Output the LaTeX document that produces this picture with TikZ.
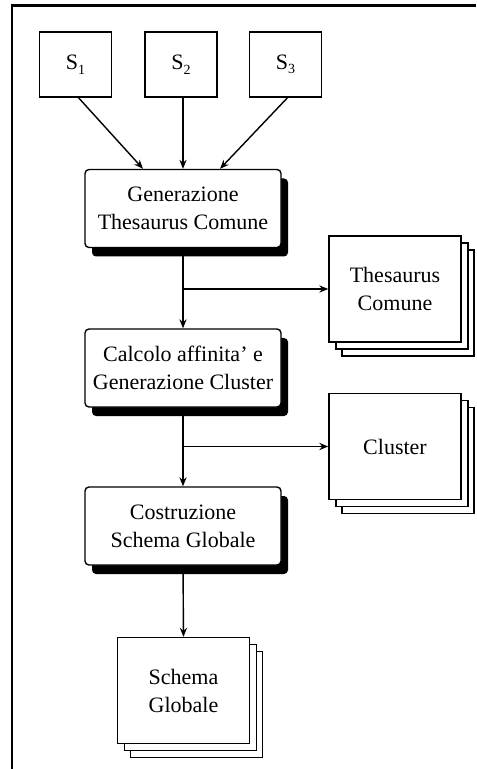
\documentclass[tikz,border=0pt]{standalone}
\usepackage{fontspec}
\setmainfont{Liberation Serif}
\usetikzlibrary{positioning,shadows,arrows.meta}
\newcommand{\sub}[1]{S\raisebox{-0.45ex}{\scriptsize #1}}
\tikzset{
  every node/.style={font=\fontsize{11}{14}\selectfont},
  source/.style={draw, fill=white, line width=0.7pt, minimum width=36pt, minimum height=32.5pt, inner sep=0pt},
  process/.style={draw, fill=white, line width=0.7pt, rounded corners=2pt, minimum width=98pt, minimum height=39pt, align=center,
    drop shadow={shadow xshift=3.5pt, shadow yshift=-4.5pt, fill=black, opacity=1}},
  store/.style={draw, fill=white, line width=0.7pt, minimum width=66pt, minimum height=53pt, align=center,
    copy shadow={shadow xshift=6.5pt, shadow yshift=-7pt, draw, fill=white, line width=0.7pt},
    copy shadow={shadow xshift=3.5pt, shadow yshift=-3.5pt, draw, fill=white, line width=0.7pt}},
  flow/.style={line width=0.7pt, -{Stealth[length=4.5pt, width=3.6pt]}}
}
\begin{document}
\begin{tikzpicture}[x=0.5pt, y=-0.5pt]
  \useasboundingbox (0,0) rectangle (476,769);
  %Frame
  \draw[line width=1.1pt] (12,769) -- (12,5.5) -- (476,5.5);

  %Nodes
  \node[source] at (75.5,64.5) (s1) {\sub{1}};
  \node[source] at (181,64.5) (s2) {\sub{2}};
  \node[source] at (285.5,64.5) (s3) {\sub{3}};
  \node[process] at (183,208.5) (gen) {Generazione\\Thesaurus Comune};
  \node[process] at (183,368) (calc) {Calcolo affinita' e\\Generazione Cluster};
  \node[process] at (183,526) (cost) {Costruzione\\Schema Globale};
  \node[store] at (395,289) (thes) {Thesaurus\\Comune};
  \node[store] at (395,446.5) (clus) {Cluster};
  \node[store] at (183.5,690.5) (schema) {Schema\\Globale};

  %Lines
  \draw[flow] ([xshift=1.5pt]s1.south) -- ([xshift=-20pt]gen.north);
  \draw[flow] ([xshift=1pt]s2.south) -- ([xshift=0pt]gen.north);
  \draw[flow] ([xshift=1pt]s3.south) -- ([xshift=18.5pt]gen.north);
  \coordinate (j1) at (gen.south |- thes.west);
  \coordinate (j2) at (calc.south |- clus.west);
  \draw[flow] (gen.south) -- (calc.north);
  \draw[flow] (j1) -- (thes.west);
  \draw[flow] (calc.south) -- (cost.north);
  \draw[flow] (j2) -- (clus.west);
  \draw[flow] (cost.south) -- (schema.north);
\end{tikzpicture}
\end{document}
